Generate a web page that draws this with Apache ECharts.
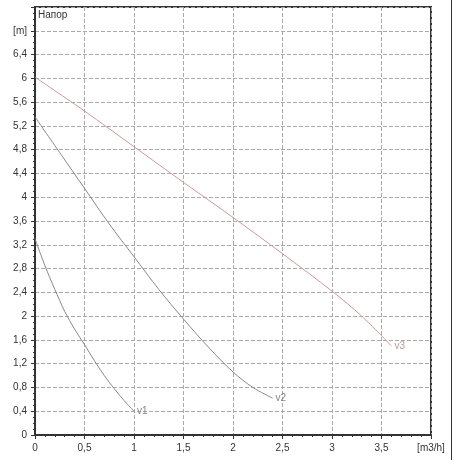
<!DOCTYPE html><html><head><meta charset="utf-8"><script src="https://cdn.jsdelivr.net/npm/echarts@6/dist/echarts.min.js"></script></head><body style="margin:0;background:#fff"><div id="c" style="width:460px;height:460px"></div><script>
const v1 = [[0,3.3],[0.1,2.85],[0.2,2.45],[0.3,2.08],[0.4,1.78],[0.5,1.52],[0.6,1.25],[0.7,1.0],[0.8,0.78],[0.9,0.58],[1.0,0.4]];
const v2 = [[0,5.35],[0.25,4.75],[0.5,4.15],[0.75,3.55],[1.0,3.0],[1.25,2.45],[1.5,1.95],[1.75,1.48],[2.0,1.06],[2.2,0.8],[2.4,0.62]];
const v3 = [[0,6.02],[0.5,5.45],[1.0,4.85],[1.5,4.25],[2.0,3.66],[2.5,3.05],[3.0,2.42],[3.3,2.0],[3.6,1.5]];
const names = ['v1','v2','v3'];
const fmt = v => String(+v.toFixed(1)).replace('.',',');
const chart = echarts.init(document.getElementById('c'));
function ser(d,n,c){return {type:'line',data:d,smooth:0.3,symbol:'none',lineStyle:{color:c,width:1},
 endLabel:{show:true,formatter:n,color:c,fontSize:10,offset:[-5,0],fontFamily:'Liberation Sans'}};}
chart.setOption({animation:false,
 grid:{left:35,right:29,top:7,bottom:25},
 xAxis:{type:'value',min:0,max:4,interval:0.5,
  axisLine:{lineStyle:{color:'#333',width:2}},axisTick:{lineStyle:{color:'#333'},length:4},
  minorTick:{show:true,splitNumber:5,length:2,lineStyle:{color:'#333'}},
  axisLabel:{color:'#333',fontSize:10,fontFamily:'Liberation Sans',formatter:v=>v===4?'[m3/h]':fmt(v)},
  splitLine:{show:true,lineStyle:{type:'dashed',color:'#aaa'}}},
 yAxis:{type:'value',min:0,max:7.2,interval:0.4,
  axisLine:{show:true,lineStyle:{color:'#333',width:2}},axisTick:{show:true,lineStyle:{color:'#333'},length:4},
  minorTick:{show:true,splitNumber:4,length:2,lineStyle:{color:'#333'}},
  axisLabel:{color:'#333',fontSize:10,fontFamily:'Liberation Sans',formatter:v=>Math.abs(v-6.8)<1e-6?'[m]':(v>7?'':fmt(v))},
  splitLine:{show:true,lineStyle:{type:'dashed',color:'#aaa'}}},
 graphic:[{type:'rect',shape:{x:35,y:7,width:396,height:428},style:{fill:'none',stroke:'#333',lineWidth:2}},
  {type:'text',left:38,top:10,style:{text:'Напор',fontSize:10,fill:'#333',fontFamily:'Liberation Sans'}},
  {type:'rect',shape:{x:451,y:0,width:1,height:460},style:{fill:'#333'}}],
 series:[ser(v1,names[0],'#888'),ser(v2,names[1],'#888'),ser(v3,names[2],'#c99')]
});
</script></body></html>
